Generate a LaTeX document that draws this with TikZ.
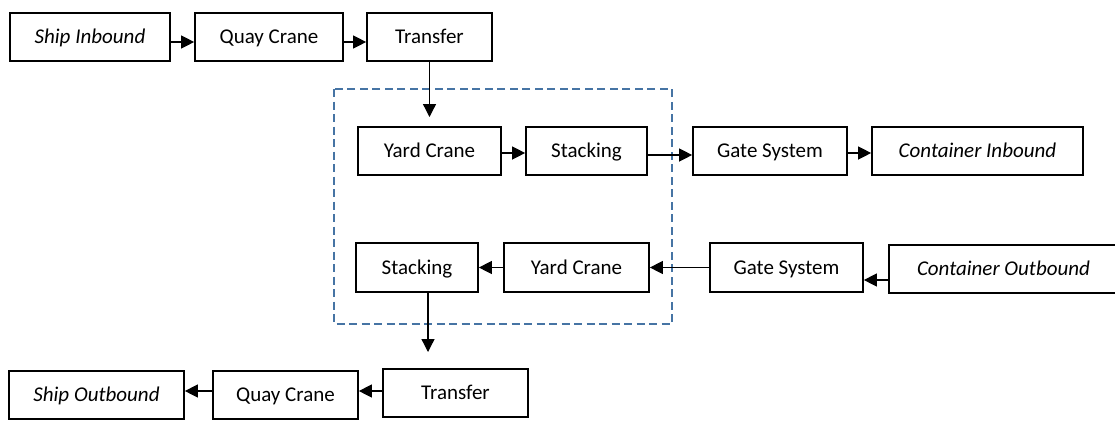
\documentclass[tikz,border=0pt]{standalone}
\usepackage{fontspec}
\setmainfont{Carlito}
\usetikzlibrary{arrows.meta}
\definecolor{yardline}{RGB}{70,116,164}
\tikzset{
  box/.style={draw=black, line width=1.7pt, fill=white, inner sep=0pt,
    minimum height=48pt, text height=13pt, text depth=0pt,
    font=\fontsize{21}{25}\selectfont},
  arr/.style={draw=black, line width=1.3pt,
    -{Triangle[length=13pt,width=13pt]}},
  yard/.style={draw=yardline, line width=1.5pt, dash pattern=on 8pt off 4.5pt}
}
\begin{document}
\begin{tikzpicture}[x=1pt,y=-1pt]
\useasboundingbox (0,0) rectangle (1115,421);

% container yard boundary
\draw[yard] (334,89) rectangle (672,324);

% import flow: ship to gate
\node[box, minimum width=160pt] (si)  at (90,37)     {\textit{Ship Inbound}};
\node[box, minimum width=148pt] (qc1) at (269,37)    {Quay Crane};
\node[box, minimum width=125pt] (tr1) at (429.5,37)  {Transfer};
\node[box, minimum width=143pt] (yc1) at (429.5,151) {Yard Crane};
\node[box, minimum width=121pt] (st1) at (586.5,151) {Stacking};
\node[box, minimum width=154pt] (gs1) at (770,151)   {Gate System};
\node[box, minimum width=211pt] (ci)  at (977.5,151) {\textit{Container Inbound}};

% export flow: gate to ship
\node[box, minimum width=236pt] (co)  at (1007,269)  {\hspace*{-7pt}\textit{Container Outbound}};
\node[box, minimum width=153pt, minimum height=49pt] (gs2) at (786.5,267.5) {Gate System};
\node[box, minimum width=145pt, minimum height=49pt] (yc2) at (576.5,267.5) {Yard Crane};
\node[box, minimum width=122pt, minimum height=49pt] (st2) at (417,267.5)   {Stacking};
\node[box, minimum width=145pt] (tr2) at (455.5,393) {Transfer};
\node[box, minimum width=145pt] (qc2) at (285.5,395) {Quay Crane};
\node[box, minimum width=175pt] (so)  at (96.5,395)  {\textit{Ship Outbound}};

\coordinate (intoyard) at (429.5,117);
\coordinate (outofyard) at (428,352);

% import connectors
\draw[arr] ([yshift=-5pt]si.east) -- ([yshift=-5pt]qc1.west);
\draw[arr] ([yshift=-5pt]qc1.east) -- ([yshift=-5pt]tr1.west);
\draw[arr] (tr1.south) -- (intoyard);
\draw[arr] ([yshift=-2pt]yc1.east) -- ([yshift=-2pt]st1.west);
\draw[arr] ([yshift=-4pt]st1.east) -- ([yshift=-4pt]gs1.west);
\draw[arr] ([yshift=-2pt]gs1.east) -- ([yshift=-2pt]ci.west);

% export connectors
\draw[arr] ([yshift=-11pt]co.west) -- ([yshift=-11pt]co.west -| gs2.east);
\draw[arr] (gs2.west) -- (yc2.east);
\draw[arr] (yc2.west) -- (st2.east);
\draw[arr] (st2.south -| outofyard) -- (outofyard);
\draw[arr] ([yshift=2pt]tr2.west) -- ([yshift=2pt]tr2.west -| qc2.east);
\draw[arr] ([yshift=4pt]qc2.west) -- ([yshift=4pt]qc2.west -| so.east);
\end{tikzpicture}
\end{document}
